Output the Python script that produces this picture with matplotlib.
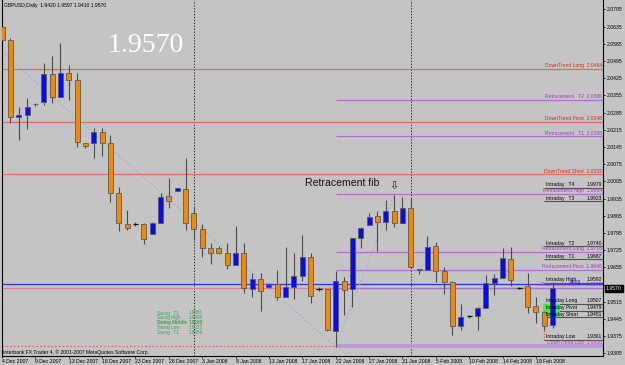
import matplotlib
matplotlib.use("Agg")
import matplotlib.pyplot as plt
from matplotlib.patches import Rectangle

W, H = 625, 365
BG = "#C4C4C4"
ORANGE = "#EE8A08"
BLUE = "#0A0AF0"
WICK = "#4A4A4A"

# daily GBPUSD bars, 4 Dec 2007 .. 21 Feb 2008
opens = [2.0633, 2.0580, 2.0267, 2.0275, 2.0318, 2.0328, 2.0442, 2.0348, 2.0446, 2.0417,
         2.0161, 2.0161, 2.0206, 2.0161, 1.9957, 1.9831, 1.9831, 1.9831, 1.9791, 1.9835,
         1.9945, 1.9966, 1.9974, 1.9876, 1.9811, 1.9734, 1.9734, 1.9713, 1.9664, 1.9713,
         1.9567, 1.9608, 1.9575, 1.9587, 1.9534, 1.9575, 1.9620, 1.9697, 1.9567, 1.9567,
         1.9396, 1.9599, 1.9567, 1.9774, 1.9827, 1.9864, 1.9840, 1.9884, 1.9835, 1.9896,
         1.9644, 1.9644, 1.9742, 1.9640, 1.9595, 1.9416, 1.9457, 1.9457, 1.9489, 1.9591,
         1.9612, 1.9689, 1.9571, 1.9579, 1.9498, 1.9473, 1.9420]
highs = [2.0670, 2.0588, 2.0308, 2.0344, 2.0324, 2.0487, 2.0515, 2.0568, 2.0478, 2.0446,
         2.0161, 2.0222, 2.0222, 2.0194, 1.9982, 1.9888, 1.9840, 1.9835, 1.9841, 1.9957,
         2.0019, 1.9978, 2.0100, 1.9901, 1.9831, 1.9754, 1.9742, 1.9754, 1.9823, 1.9754,
         1.9632, 1.9632, 1.9591, 1.9644, 1.9738, 1.9713, 1.9787, 1.9713, 1.9575, 1.9567,
         1.9640, 1.9616, 1.9774, 1.9819, 1.9876, 1.9884, 1.9929, 1.9949, 1.9941, 1.9937,
         1.9648, 1.9783, 1.9758, 1.9656, 1.9599, 1.9506, 1.9461, 1.9494, 1.9624, 1.9628,
         1.9734, 1.9738, 1.9576, 1.9632, 1.9534, 1.9477, 1.9597]
lows = [2.0560, 2.0242, 2.0173, 2.0218, 2.0312, 2.0316, 2.0324, 2.0348, 2.0336, 2.0145,
        2.0141, 2.0100, 2.0108, 1.9921, 1.9803, 1.9807, 1.9823, 1.9750, 1.9789, 1.9835,
        1.9896, 1.9966, 1.9807, 1.9766, 1.9697, 1.9669, 1.9709, 1.9648, 1.9664, 1.9551,
        1.9534, 1.9477, 1.9571, 1.9522, 1.9534, 1.9526, 1.9599, 1.9510, 1.9559, 1.9396,
        1.9331, 1.9461, 1.9494, 1.9734, 1.9827, 1.9721, 1.9807, 1.9819, 1.9835, 1.9652,
        1.9628, 1.9644, 1.9595, 1.9546, 1.9380, 1.9400, 1.9449, 1.9400, 1.9489, 1.9543,
        1.9612, 1.9579, 1.9567, 1.9469, 1.9428, 1.9400, 1.9410]
closes = [2.0580, 2.0267, 2.0275, 2.0308, 2.0320, 2.0442, 2.0348, 2.0446, 2.0417, 2.0166,
          2.0149, 2.0206, 2.0161, 1.9957, 1.9835, 1.9815, 1.9831, 1.9770, 1.9835, 1.9941,
          1.9925, 1.9978, 1.9835, 1.9811, 1.9734, 1.9713, 1.9713, 1.9664, 1.9713, 1.9571,
          1.9608, 1.9559, 1.9583, 1.9534, 1.9575, 1.9620, 1.9697, 1.9538, 1.9567, 1.9400,
          1.9599, 1.9563, 1.9774, 1.9815, 1.9860, 1.9840, 1.9884, 1.9835, 1.9896, 1.9656,
          1.9648, 1.9738, 1.9640, 1.9595, 1.9416, 1.9453, 1.9457, 1.9489, 1.9591, 1.9612,
          1.9693, 1.9603, 1.9571, 1.9494, 1.9473, 1.9416, 1.9570]

date_labels = ["4 Dec 2007", "9 Dec 2007", "13 Dec 2007", "18 Dec 2007", "23 Dec 2007",
               "28 Dec 2007", "3 Jan 2008", "8 Jan 2008", "13 Jan 2008", "17 Jan 2008",
               "22 Jan 2008", "27 Jan 2008", "31 Jan 2008", "5 Feb 2008", "10 Feb 2008",
               "14 Feb 2008", "19 Feb 2008"]
price_ticks = [2.0705, 2.0635, 2.0565, 2.0495, 2.0425, 2.0355, 2.0285, 2.0215, 2.0145,
               2.0075, 2.0005, 1.9935, 1.9865, 1.9795, 1.9725, 1.9655, 1.9585, 1.9515,
               1.9445, 1.9375, 1.9305]
month_starts = [23, 49]

downtrend_names = ["DownTrend Long", "DownTrend Pivot", "DownTrend Short"]
downtrend_levels = [2.0464, 2.0248, 2.0033]
downtrend_low = 1.9333

retr_names = ["Retracement   T2", "Retracement   T1", "Retracement High",
              "Retracement Long", "Retracement Pivot", "Retracement Short"]
retr_levels = [2.0336, 2.0188, 1.9954, 1.9718, 1.9646, 1.9572]
retr_low_name = "DownTrend Low"
retr_low = 1.9336
retr_start = 40
retr_top_bar = 47

intraday_names = ["Intraday   T4", "Intraday   T3", "Intraday   T2", "Intraday   T1",
                  "Intraday High", "Intraday Long", "Intraday Pivot", "Intraday Short",
                  "Intraday Low"]
intraday_levels = [1.9979, 1.9923, 1.9740, 1.9687, 1.9592, 1.9507, 1.9479, 1.9451, 1.9361]
intraday_start = 65

swing_long = 1.9586
trend_start = (0, 2.0531)

swing_names = ["Swing   T1", "Swing High", "Swing Middle", "Swing Low", "Swing   T1"]
swing_values = ["1.9361", "1.9298", "1.9160", "1.9022", "1.8959"]

n = len(closes)
fig = plt.figure(figsize=(W / 100, H / 100), dpi=100, facecolor=BG)
ax = fig.add_axes([2 / W, 1 - 356 / H, 601 / W, 356 / H])
ax.set_facecolor(BG)
ax.set_xlim(0.06, 72.04)
ax.set_ylim(1.9294, 2.0743)

small = dict(fontsize=3.6, family="Liberation Sans")

# period separators
for m in month_starts:
    ax.axvline(m, color="black", lw=0.6, ls=(0, (1.5, 2)), zorder=1)

# full width levels
for lvl in downtrend_levels:
    ax.axhline(lvl, color="#E06C6C", lw=0.9, zorder=1)
ax.axhline(downtrend_low, color="#E06C6C", lw=0.9, ls=(0, (1.5, 1.5)), zorder=1)
ax.axhline(retr_levels[-1], color="#D88090", lw=0.9, zorder=1)
ax.axhline(swing_long, color="#3030F0", lw=0.9, zorder=1)

# retracement levels from the swing low
for lvl in retr_levels:
    ax.hlines(lvl, retr_start, 72.04, color="#B070D0", lw=0.9, zorder=1)
ax.hlines(retr_low, retr_start, 72.04, color="#BC96DC", lw=2.6, zorder=1)

# intraday levels
for lvl in intraday_levels:
    ax.hlines(lvl, intraday_start, 72.04, color="#505050", lw=0.8, zorder=1)
ax.add_patch(Rectangle((intraday_start - 0.1, intraday_levels[7]), 1.95,
                       intraday_levels[5] - intraday_levels[7] - 0.0002,
                       facecolor="#44EE44", edgecolor="none", zorder=1.5))

# trend line and fib diagonal
ax.plot([trend_start[0], retr_start], [trend_start[1], lows[retr_start]],
        color="#8EB2D4", lw=0.8, ls=(0, (1.5, 2)), zorder=1)
ax.plot([retr_start, retr_top_bar], [lows[retr_start], highs[retr_top_bar]],
        color="#8EB2D4", lw=0.8, ls=(0, (1.5, 2)), zorder=1)
ax.plot([intraday_start, intraday_start], [intraday_levels[-1], lows[intraday_start]],
        color="#E04040", lw=0.8, ls=(0, (1, 1.5)), zorder=1)

# candles
for i in range(n):
    o, h, l, c = opens[i], highs[i], lows[i], closes[i]
    ax.vlines(i, l, h, color=WICK, lw=0.8, zorder=2)
    if abs(c - o) < 0.00005:
        ax.hlines(c, i - 0.32, i + 0.32, color="black", lw=0.9, zorder=3)
        continue
    col = BLUE if c > o else ORANGE
    ax.add_patch(Rectangle((i - 0.3, min(o, c)), 0.6, abs(c - o), facecolor=col,
                           edgecolor="#5A5A5A", lw=0.6, zorder=3))

# level labels
xr = 71.9
for name, lvl in zip(downtrend_names, downtrend_levels):
    ax.annotate(f"{name}  {lvl:.4f}", (xr, lvl), xytext=(0, 0.5), textcoords="offset points",
                ha="right", va="bottom", color="#D02828", zorder=4, **small)
for name, lvl in zip(retr_names, retr_levels):
    ax.annotate(f"{name}  {lvl:.4f}", (xr, lvl), xytext=(0, 0.5), textcoords="offset points",
                ha="right", va="bottom", color="#A038C8", zorder=4, **small)
ax.annotate(f"{retr_low_name}  {retr_low:.4f}", (xr, retr_low), xytext=(0, 0.5),
            textcoords="offset points", ha="right", va="bottom", color="#C040C0",
            zorder=4, **small)
for name, lvl in zip(intraday_names, intraday_levels):
    ax.annotate(name, (intraday_start + 0.2, lvl), xytext=(0, 0.5), textcoords="offset points",
                ha="left", va="bottom", color="black", zorder=4, **small)
    ax.annotate(f"{lvl:.4f}", (xr, lvl), xytext=(0, 0.5), textcoords="offset points",
                ha="right", va="bottom", color="black", zorder=4, **small)
ax.annotate("Long", (68.0, swing_long), xytext=(0, 0.5), textcoords="offset points",
            ha="left", va="bottom", color="#2020E0", zorder=4, **small)

# swing block (bottom left)
for k, (name, val) in enumerate(zip(swing_names, swing_values)):
    y = 1 - (313 + k * 4.8) / H
    fw = "bold" if k == 2 else "normal"
    fig.text(157 / W, y, name, color="#3C9C5C", fontweight=fw, va="center",
             fontsize=3.3, family="Liberation Sans")
    fig.text(203 / W, y, val, color="#3C9C5C", fontweight=fw, va="center", ha="right",
             fontsize=3.3, family="Liberation Sans")

ax.text(36.35, 1.9998, "Retracement fib", fontsize=7.6, family="Liberation Sans",
        ha="left", va="center", color="#101010", zorder=4)
ax.text(retr_top_bar, 1.9988, "\u21e9", fontsize=8, family="DejaVu Sans",
        ha="center", va="center", color="#202020", zorder=4)

# axes
ax.spines["top"].set_visible(False)
for s in ["left", "right", "bottom"]:
    ax.spines[s].set_color("black")
    ax.spines[s].set_linewidth(0.8)
ax.yaxis.tick_right()
ax.set_yticks(price_ticks)
# the label nearest the bid is hidden behind the price box, as in the terminal
ax.set_yticklabels(["" if abs(t - closes[-1]) < 0.002 else f"{t:.4f}" for t in price_ticks],
                   family="Liberation Sans")
ax.set_xticks(range(0, n, 4))
ax.set_xticklabels(date_labels, ha="left", family="Liberation Sans")
ax.tick_params(axis="both", direction="out", length=1.5, width=0.6, labelsize=3.7,
               colors="black", pad=1.2)
ax.tick_params(axis="x", pad=0.8)
ax.grid(False)

# current price box
ax.annotate(f"{closes[-1]:.4f}", (1.0, closes[-1]), xycoords=("axes fraction", "data"),
            xytext=(2.0, 0), textcoords="offset points", ha="left", va="center",
            color="white", fontsize=3.7, family="Liberation Sans", zorder=6,
            annotation_clip=False,
            bbox=dict(boxstyle="square,pad=0.2", fc="black", ec="black"))

# header, big price, footer
fig.text(4 / W, 1 - 5.5 / H, f"GBPUSD,Daily  {opens[-1]:.4f} {highs[-1]:.4f} "
         f"{lows[-1]:.4f} {closes[-1]:.4f}", va="center", color="black", **small)
fig.text(108 / W, 1 - 46 / H, f"{closes[-1]:.4f}", fontsize=20, family="Liberation Serif",
         color="white", va="center", ha="left")
fig.text(3 / W, 1 - 352 / H, "Interbank FX Trader 4, \u00a9 2001-2007 MetaQuotes Software Corp.",
         va="center", color="black", **small)

fig.savefig("out.png", dpi=100, facecolor=BG)
